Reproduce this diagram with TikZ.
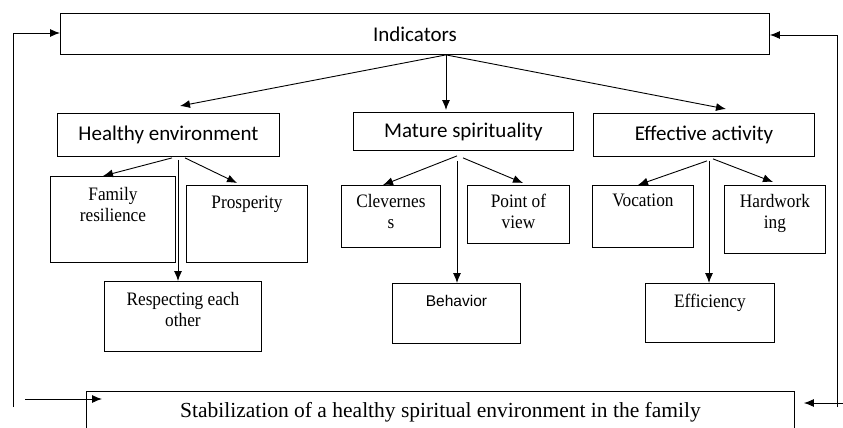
\documentclass[tikz,border=0pt]{standalone}
\usepackage{fontspec}
\setmainfont{Liberation Serif}
\newfontfamily\calibri{Carlito}
\newfontfamily\arialfnt{Liberation Sans}
\newfontfamily\narrowserif{Liberation Serif}[FakeStretch=0.91]
\usetikzlibrary{calc,arrows.meta,positioning}

\begin{document}
\begin{tikzpicture}[x=1pt,y=-1pt,
    box/.style={draw,line width=0.9pt,inner sep=0pt,anchor=north west},
    head/.style={box,font=\calibri\fontsize{21}{24}\selectfont},
    txt/.style={anchor=north,yshift=-11pt,inner sep=0pt,align=center,font=\narrowserif\fontsize{19}{21}\selectfont},
    arr/.style={line width=0.9pt,-{Latex[length=10pt,width=8pt]}}]
  \useasboundingbox (0,0) rectangle (843,428);

  \node[head,minimum width=709pt,minimum height=41pt] (ind) at (60,13) {Indicators};
  \node[head,minimum width=222pt,minimum height=43pt] (he) at (57,113) {Healthy environment};
  \node[head,minimum width=220pt,minimum height=38pt] (ms) at (353,112) {Mature spirituality};
  \node[head,minimum width=221pt,minimum height=43pt] (ea) at (593,113) {Effective activity};

  \node[box,minimum width=125pt,minimum height=86pt,label={[txt]north:Family\\resilience}] (fam) at (50,176) {};
  \node[box,minimum width=121pt,minimum height=77pt,label={[txt]north:Prosperity}] (pros) at (186,185) {};
  \node[box,minimum width=157pt,minimum height=70pt,label={[txt]north:Respecting each\\other}] (resp) at (104,281) {};
  \node[box,minimum width=99pt,minimum height=62pt,label={[txt,yshift=2pt]north:Clevernes\\s}] (clev) at (341,185) {};
  \node[box,minimum width=102pt,minimum height=58pt,label={[txt,yshift=2pt]north:Point of\\view}] (pov) at (467,185) {};
  \node[box,minimum width=128pt,minimum height=60pt,label={[txt,yshift=-1pt,font=\arialfnt\fontsize{15.5}{18}\selectfont]north:Behavior}] (beh) at (392,283) {};
  \node[box,minimum width=101pt,minimum height=62pt,label={[txt,yshift=2pt]north:Vocation}] (voc) at (592,185) {};
  \node[box,minimum width=101pt,minimum height=68pt,label={[txt,yshift=2pt]north:Hardwork\\ing}] (hard) at (724,185) {};
  \node[box,minimum width=129pt,minimum height=59pt,label={[txt]north:Efficiency}] (eff) at (645,283) {};

  \node[box,minimum width=708pt,minimum height=42pt,font=\fontsize{21.5}{24}\selectfont] (stab) at (86,391)
    {Stabilization of a healthy spiritual environment in the family};

  \coordinate (ind0) at ($(ind.south west)+(386,0)$);
  \draw[arr] (ind0) -- ($(he.north west)+(123,-7)$);
  \draw[arr] (ind0) -- ($(ms.north west)+(93,-2)$);
  \draw[arr] (ind0) -- ($(ea.north west)+(133,-4)$);

  \draw[arr] ($(he.south west)+(115,1)$) -- ($(fam.north west)+(53,0)$);
  \draw[arr] ($(he.south west)+(128,1)$) -- ($(pros.north west)+(51,-2)$);
  \draw[arr] ($(he.south west)+(121,3)$) -- ($(resp.north west)+(74,0)$);

  \draw[arr] ($(ms.south west)+(104,5)$) -- ($(clev.north west)+(42,0)$);
  \draw[arr] ($(ms.south west)+(110,7)$) -- ($(pov.north west)+(56,-2)$);
  \draw[arr] ($(ms.south west)+(104,10)$) -- ($(beh.north west)+(65,0)$);

  \draw[arr] ($(ea.south west)+(114,4)$) -- ($(voc.north west)+(46,0)$);
  \draw[arr] ($(ea.south west)+(120,2)$) -- ($(hard.north west)+(49,-3)$);
  \draw[arr] ($(ea.south west)+(116,4)$) -- ($(eff.north west)+(64,0)$);

  \coordinate (lfoot) at (13,407);
  \coordinate (rfoot) at (837,407);
  \coordinate (lin) at (25,399);
  \coordinate (rin) at (843,403);
  \draw[arr] (lfoot) |- ($(ind.north west)+(0,20)$);
  \draw[arr] (rfoot) |- ($(ind.north east)+(0,22)$);
  \draw[arr] (lin) -- ($(stab.north west)+(16,8)$);
  \draw[arr] (rin) -- ($(stab.north east)+(9,12)$);
\end{tikzpicture}
\end{document}
